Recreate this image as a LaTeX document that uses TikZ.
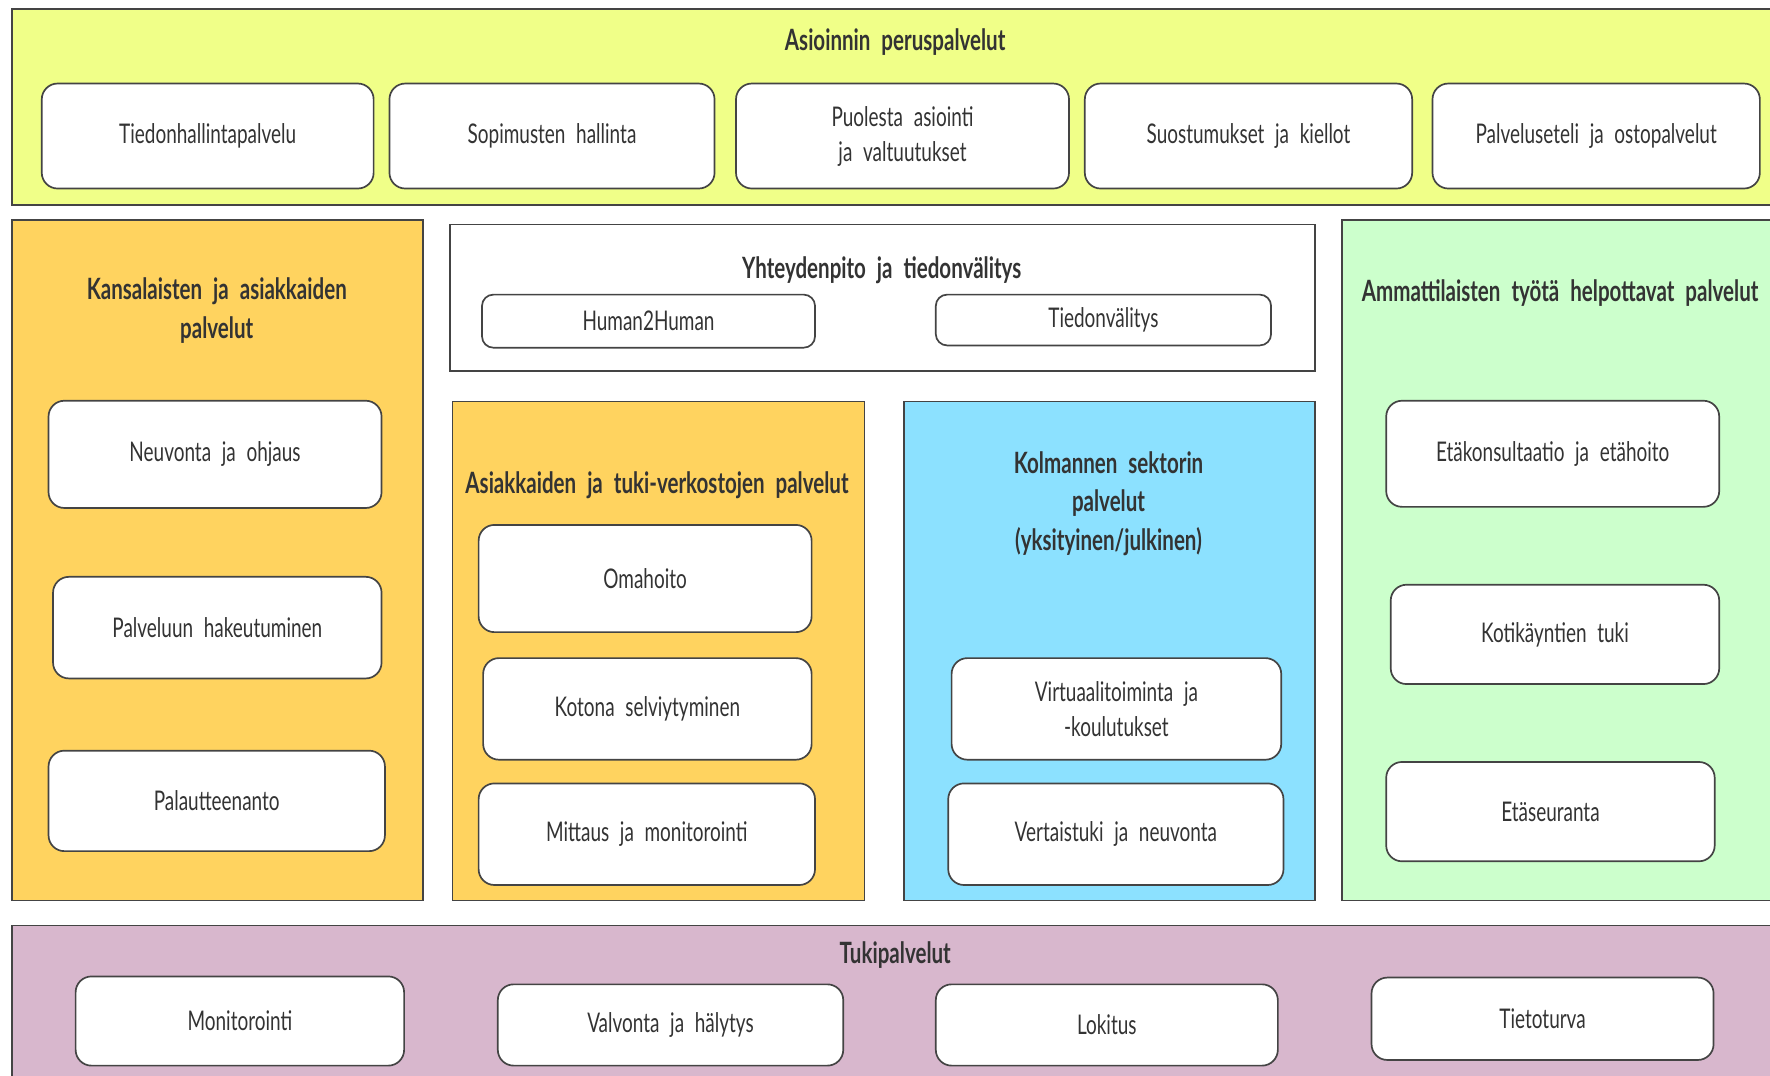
\documentclass[tikz,border=0pt]{standalone}
\usepackage{fontspec}
\setmainfont{Lato}[FakeStretch=0.70, WordSpace=2.2]
\definecolor{basicyellow}{HTML}{F0FF88}
\definecolor{clientorange}{HTML}{FFD35F}
\definecolor{thirdblue}{HTML}{8CE1FF}
\definecolor{profgreen}{HTML}{CCFFCC}
\definecolor{supportpurple}{HTML}{D8B7CD}
\definecolor{linegray}{HTML}{444444}
\definecolor{textgray}{HTML}{333333}
\tikzset{
  panel/.style={draw=linegray, line width=1.5pt, anchor=north west, inner sep=0pt},
  svcbox/.style={draw=linegray, line width=1.5pt, fill=white, rounded corners=14pt, align=center,
    text=textgray, inner sep=0pt, font=\fontsize{24}{31}\selectfont},
  paneltitle/.style={text=textgray, align=center, font=\bfseries\fontsize{26}{34}\selectfont}
}

\begin{document}
\begin{tikzpicture}[x=1pt,y=-1pt]
  \useasboundingbox (0,0) rectangle (1568,953);
  % Asioinnin peruspalvelut
  \node[panel, fill=basicyellow, minimum width=1580pt, minimum height=174pt] (basic) at (10,7) {};
  \node[paneltitle] (basictitle) at (793,37) {Asioinnin peruspalvelut};
  \node[svcbox, minimum width=294pt, minimum height=93pt] (datamgmt) at (184,120.5) {Tiedonhallintapalvelu};
  \node[svcbox, minimum width=288pt, minimum height=93pt] (contracts) at (489,120.5) {Sopimusten hallinta};
  \node[svcbox, minimum width=295pt, minimum height=93pt] (proxy) at (799.5,120.5) {Puolesta asiointi\\ja valtuutukset};
  \node[svcbox, minimum width=290pt, minimum height=93pt] (consents) at (1106,120.5) {Suostumukset ja kiellot};
  \node[svcbox, minimum width=290pt, minimum height=93pt] (vouchers) at (1414,120.5) {Palveluseteli ja ostopalvelut};

  % Kansalaisten ja asiakkaiden palvelut
  \node[panel, fill=clientorange, minimum width=364pt, minimum height=603pt] (citizens) at (10,194) {};
  \node[paneltitle] (citizenstitle) at (192,275) {Kansalaisten ja asiakkaiden\\palvelut};
  \node[svcbox, minimum width=295pt, minimum height=95pt] (guidance) at (190.5,402.5) {Neuvonta ja ohjaus};
  \node[svcbox, minimum width=291pt, minimum height=90pt] (seeking) at (192.5,556) {Palveluun hakeutuminen};
  \node[svcbox, minimum width=298pt, minimum height=89pt] (feedback) at (192,709.5) {Palautteenanto};

  % Yhteydenpito ja tiedonvalitys
  \node[panel, fill=white, minimum width=766pt, minimum height=130pt] (contact) at (398,198) {};
  \node[paneltitle] (contacttitle) at (781,239) {Yhteydenpito ja tiedonvälitys};
  \node[svcbox, rounded corners=10pt, minimum width=295pt, minimum height=47pt] (h2h) at (574.5,284.5) {Human2Human};
  \node[svcbox, rounded corners=10pt, minimum width=297pt, minimum height=45pt] (messaging) at (977.5,283.5) {Tiedonvälitys};

  % Asiakkaiden ja tukiverkostojen palvelut
  \node[panel, fill=clientorange, minimum width=365pt, minimum height=442pt] (network) at (400,355) {};
  \node[paneltitle] (networktitle) at (582,430) {Asiakkaiden ja tuki-verkostojen palvelut};
  \node[svcbox, minimum width=295pt, minimum height=95pt] (selfcare) at (571.5,512.5) {Omahoito};
  \node[svcbox, minimum width=291pt, minimum height=90pt] (athome) at (573.5,628) {Kotona selviytyminen};
  \node[svcbox, minimum width=298pt, minimum height=90pt] (measuring) at (573,739) {Mittaus ja monitorointi};

  % Kolmannen sektorin palvelut
  \node[panel, fill=thirdblue, minimum width=364pt, minimum height=442pt] (third) at (800,355) {};
  \node[paneltitle] (thirdtitle) at (982,446) {Kolmannen sektorin\\palvelut\\(yksityinen/julkinen)};
  \node[svcbox, minimum width=292pt, minimum height=90pt] (virtual) at (989,628) {Virtuaalitoiminta ja\\-koulutukset};
  \node[svcbox, minimum width=297pt, minimum height=90pt] (peer) at (988.5,739) {Vertaistuki ja neuvonta};

  % Ammattilaisten palvelut
  \node[panel, fill=profgreen, minimum width=400pt, minimum height=603pt] (prof) at (1188,194) {};
  \node[paneltitle] (proftitle) at (1382,260) {Ammattilaisten työtä helpottavat palvelut};
  \node[svcbox, minimum width=295pt, minimum height=94pt] (remote) at (1375.5,402) {Etäkonsultaatio ja etähoito};
  \node[svcbox, minimum width=291pt, minimum height=88pt] (homevisit) at (1377.5,562) {Kotikäyntien tuki};
  \node[svcbox, minimum width=291pt, minimum height=88pt] (telemon) at (1373.5,719) {Etäseuranta};

  % Tukipalvelut
  \node[panel, fill=supportpurple, minimum width=1580pt, minimum height=150pt] (support) at (10,819) {};
  \node[paneltitle] (supporttitle) at (793,846) {Tukipalvelut};
  \node[svcbox, minimum width=291pt, minimum height=79pt] (monitoring) at (212.5,904.5) {Monitorointi};
  \node[svcbox, minimum width=306pt, minimum height=72pt] (alarms) at (594,908) {Valvonta ja hälytys};
  \node[svcbox, minimum width=303pt, minimum height=72pt] (logging) at (980.5,908) {Lokitus};
  \node[svcbox, minimum width=303pt, minimum height=73pt] (security) at (1366.5,902.5) {Tietoturva};
\end{tikzpicture}
\end{document}
